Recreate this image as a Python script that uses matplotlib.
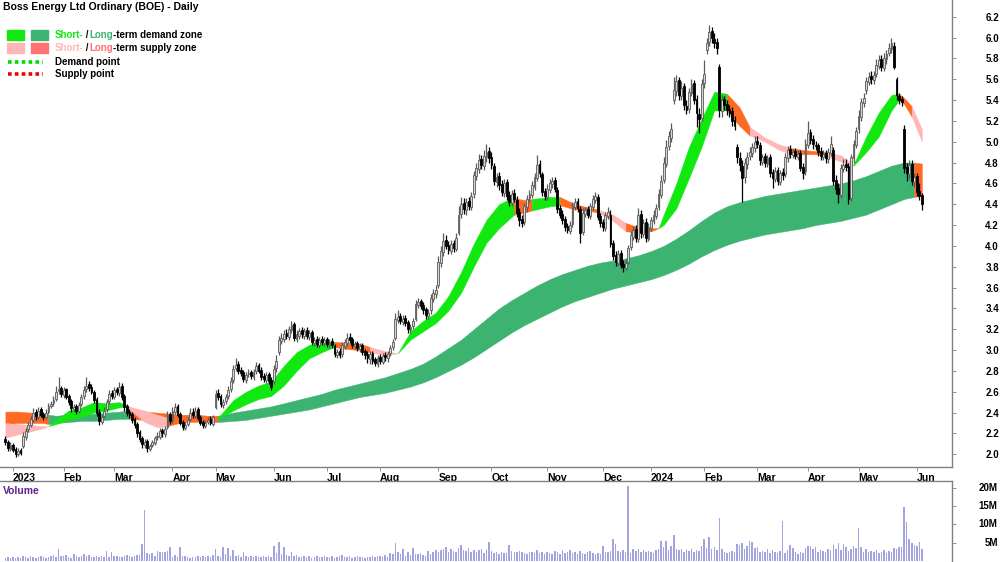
import numpy as np
import pandas as pd
import matplotlib
matplotlib.use('Agg')
import matplotlib.pyplot as plt
from matplotlib.transforms import blended_transform_factory
from matplotlib.patches import Rectangle
from matplotlib.lines import Line2D

plt.rcParams['font.family'] = ['Liberation Sans', 'DejaVu Sans']
plt.rcParams['font.weight'] = 'bold'

TITLE = 'Boss Energy Ltd Ordinary (BOE) - Daily'
START, END = '2022-12-28', '2024-06-05'
HOLIDAYS = ['2023-01-02', '2023-01-26', '2023-04-07', '2023-04-10', '2023-04-25',
            '2023-06-12', '2023-12-25', '2023-12-26', '2024-01-01', '2024-01-26',
            '2024-03-29', '2024-04-01', '2024-04-25']

# daily prices, one line per month (Dec-22 .. Jun-24)
opens = [
    2.15, 2.12, 2.05,
    2.09, 2.05, 2.00, 2.04, 2.08, 2.17, 2.24, 2.28, 2.33, 2.41, 2.36, 2.43, 2.39, 2.36, 2.41, 2.46, 2.49, 2.53, 2.61, 2.64,
    2.57, 2.63, 2.56, 2.51, 2.43, 2.46, 2.42, 2.48, 2.56, 2.63, 2.67, 2.65, 2.60, 2.53, 2.41, 2.31, 2.37, 2.43, 2.51, 2.59,
    2.55, 2.63, 2.59, 2.66, 2.56, 2.46, 2.41, 2.39, 2.34, 2.29, 2.21, 2.16, 2.09, 2.13, 2.05, 2.09, 2.11, 2.17, 2.17, 2.23, 2.19, 2.26, 2.39,
    2.33, 2.41, 2.46, 2.39, 2.31, 2.25, 2.29, 2.34, 2.41, 2.37, 2.43, 2.36, 2.31, 2.27, 2.31, 2.34, 2.29,
    2.45, 2.59, 2.56, 2.47, 2.51, 2.56, 2.63, 2.71, 2.83, 2.87, 2.81, 2.79, 2.71, 2.77, 2.79, 2.74, 2.80, 2.86, 2.81, 2.75, 2.71, 2.77, 2.71,
    2.70, 2.83, 2.98, 3.09, 3.11, 3.16, 3.13, 3.19, 3.25, 3.11, 3.14, 3.19, 3.14, 3.19, 3.13, 3.17, 3.07, 3.11, 3.05, 3.11, 3.07,
    3.11, 3.05, 3.09, 3.04, 2.95, 2.99, 2.96, 3.04, 3.07, 3.13, 3.11, 3.04, 3.07, 3.01, 3.05, 2.99, 2.96, 2.91, 2.97, 2.91, 2.87,
    2.93, 2.89, 2.95, 2.92, 2.97, 3.03, 3.12, 3.29, 3.33, 3.27, 3.31, 3.27, 3.19, 3.23, 3.30, 3.43, 3.47, 3.43, 3.39, 3.33, 3.38, 3.49, 3.54,
    3.62, 3.84, 3.94, 4.06, 4.01, 3.95, 4.03, 3.97, 4.12, 4.31, 4.41, 4.34, 4.43, 4.37, 4.50, 4.67, 4.74, 4.83, 4.77, 4.85, 4.91,
    4.85, 4.77, 4.61, 4.67, 4.59, 4.51, 4.61, 4.49, 4.41, 4.51, 4.44, 4.33, 4.26, 4.23, 4.37, 4.46, 4.49, 4.57, 4.65, 4.79, 4.69, 4.53,
    4.47, 4.54, 4.59, 4.63, 4.54, 4.36, 4.31, 4.26, 4.19, 4.14, 4.21, 4.37, 4.43, 4.35, 4.13, 4.31, 4.35, 4.29, 4.37, 4.44, 4.47, 4.29,
    4.23, 4.17, 4.29, 4.30, 4.03, 3.91, 3.84, 3.93, 3.83, 3.79, 3.85, 3.99, 4.09, 4.16, 4.07, 4.31, 4.11, 4.23, 4.07,
    4.17, 4.24, 4.29, 4.37, 4.49, 4.63, 4.79, 4.96, 5.04, 5.40, 5.49, 5.59, 5.44, 5.53, 5.34, 5.31, 5.47, 5.56, 5.41, 5.27, 5.23,
    5.56, 5.88, 5.96, 6.06, 5.99, 5.96, 5.72, 5.29, 5.41, 5.36, 5.31, 5.29, 5.21, 4.95, 4.84, 4.77, 4.66, 4.79, 4.86, 4.89, 4.94,
    5.01, 4.97, 4.81, 4.86, 4.79, 4.85, 4.71, 4.64, 4.73, 4.61, 4.71, 4.69, 4.84, 4.93, 4.87, 4.91, 4.85, 4.89, 4.76, 4.72,
    4.97, 5.09, 5.03, 4.97, 4.97, 4.91, 4.85, 4.89, 4.83, 4.89, 4.92, 4.63, 4.56, 4.49, 4.74, 4.79, 4.77, 4.46, 4.84, 4.97,
    5.12, 5.24, 5.37, 5.50, 5.57, 5.63, 5.59, 5.65, 5.73, 5.79, 5.71, 5.79, 5.85, 5.89, 5.92, 5.60, 5.44, 5.41, 5.12, 4.76, 4.69, 4.79, 4.61,
    4.67, 4.53, 4.49,
]
highs = [
    2.18, 2.14, 2.12,
    2.11, 2.07, 2.06, 2.06, 2.21, 2.25, 2.31, 2.37, 2.44, 2.43, 2.45, 2.45, 2.41, 2.43, 2.49, 2.51, 2.56, 2.66, 2.74, 2.66,
    2.65, 2.64, 2.58, 2.53, 2.48, 2.48, 2.50, 2.58, 2.66, 2.74, 2.70, 2.67, 2.62, 2.55, 2.43, 2.38, 2.45, 2.53, 2.62, 2.62,
    2.65, 2.65, 2.69, 2.68, 2.58, 2.48, 2.43, 2.41, 2.36, 2.31, 2.23, 2.18, 2.15, 2.15, 2.10, 2.14, 2.18, 2.21, 2.25, 2.25, 2.27, 2.42, 2.41,
    2.45, 2.49, 2.48, 2.41, 2.33, 2.31, 2.36, 2.44, 2.44, 2.45, 2.45, 2.38, 2.33, 2.33, 2.36, 2.37, 2.38,
    2.62, 2.63, 2.58, 2.53, 2.58, 2.66, 2.74, 2.86, 2.92, 2.90, 2.84, 2.81, 2.79, 2.82, 2.81, 2.82, 2.89, 2.88, 2.84, 2.78, 2.79, 2.79, 2.74,
    2.86, 2.95, 3.14, 3.16, 3.19, 3.20, 3.23, 3.28, 3.27, 3.19, 3.21, 3.22, 3.21, 3.22, 3.19, 3.19, 3.13, 3.14, 3.13, 3.14, 3.13,
    3.13, 3.11, 3.12, 3.06, 3.01, 3.02, 3.08, 3.11, 3.16, 3.16, 3.13, 3.09, 3.09, 3.07, 3.07, 3.01, 2.99, 2.99, 2.99, 2.93, 2.95,
    2.96, 2.97, 2.98, 2.99, 3.05, 3.11, 3.36, 3.38, 3.36, 3.34, 3.34, 3.29, 3.25, 3.31, 3.48, 3.50, 3.49, 3.46, 3.41, 3.39, 3.54, 3.59, 3.62,
    3.90, 4.00, 4.12, 4.10, 4.05, 4.06, 4.06, 4.12, 4.38, 4.47, 4.46, 4.46, 4.47, 4.52, 4.72, 4.80, 4.88, 4.87, 4.92, 4.98, 4.95,
    4.90, 4.80, 4.70, 4.71, 4.63, 4.64, 4.64, 4.53, 4.54, 4.55, 4.48, 4.36, 4.30, 4.41, 4.49, 4.54, 4.62, 4.70, 4.87, 4.82, 4.71, 4.56,
    4.59, 4.64, 4.66, 4.66, 4.57, 4.39, 4.34, 4.29, 4.22, 4.24, 4.42, 4.46, 4.46, 4.38, 4.36, 4.37, 4.38, 4.41, 4.49, 4.52, 4.50, 4.32,
    4.26, 4.33, 4.37, 4.34, 4.06, 3.95, 3.96, 3.96, 3.86, 3.87, 4.01, 4.14, 4.19, 4.20, 4.36, 4.34, 4.26, 4.27, 4.22,
    4.28, 4.34, 4.40, 4.55, 4.68, 4.85, 5.02, 5.10, 5.18, 5.62, 5.64, 5.62, 5.58, 5.56, 5.40, 5.52, 5.60, 5.59, 5.45, 5.32, 5.60,
    5.78, 6.00, 6.12, 6.10, 6.04, 6.00, 5.75, 5.45, 5.44, 5.40, 5.35, 5.33, 5.25, 4.98, 4.90, 4.82, 4.84, 4.90, 4.95, 4.99, 5.05,
    5.05, 5.00, 4.88, 4.89, 4.87, 4.88, 4.74, 4.76, 4.76, 4.73, 4.75, 4.89, 4.96, 4.97, 4.93, 4.94, 4.92, 4.92, 4.80, 5.03,
    5.20, 5.12, 5.06, 5.01, 4.99, 4.95, 4.92, 4.92, 4.94, 5.05, 4.95, 4.68, 4.60, 4.79, 4.83, 4.83, 4.80, 4.88, 5.02, 5.14,
    5.30, 5.42, 5.47, 5.62, 5.67, 5.68, 5.68, 5.79, 5.83, 5.83, 5.85, 5.88, 5.95, 6.00, 5.96, 5.62, 5.47, 5.44, 5.16, 4.80, 4.82, 4.82, 4.70,
    4.70, 4.60, 4.51,
]
lows = [
    2.09, 2.03, 2.03,
    2.02, 1.97, 1.98, 1.99, 2.06, 2.14, 2.21, 2.26, 2.31, 2.33, 2.34, 2.36, 2.33, 2.34, 2.39, 2.44, 2.46, 2.51, 2.58, 2.55,
    2.54, 2.53, 2.47, 2.41, 2.41, 2.39, 2.40, 2.46, 2.53, 2.60, 2.61, 2.58, 2.49, 2.37, 2.28, 2.29, 2.35, 2.41, 2.48, 2.53,
    2.53, 2.57, 2.56, 2.52, 2.42, 2.37, 2.35, 2.30, 2.25, 2.17, 2.12, 2.06, 2.06, 2.02, 2.03, 2.07, 2.09, 2.14, 2.15, 2.17, 2.17, 2.24, 2.29,
    2.30, 2.39, 2.36, 2.28, 2.23, 2.23, 2.27, 2.32, 2.35, 2.35, 2.33, 2.28, 2.25, 2.25, 2.29, 2.28, 2.27,
    2.43, 2.52, 2.45, 2.44, 2.48, 2.53, 2.60, 2.68, 2.80, 2.77, 2.75, 2.69, 2.68, 2.74, 2.72, 2.71, 2.77, 2.78, 2.71, 2.69, 2.68, 2.67, 2.62,
    2.67, 2.79, 2.95, 3.06, 3.08, 3.11, 3.10, 3.16, 3.09, 3.08, 3.11, 3.12, 3.11, 3.11, 3.10, 3.05, 3.04, 3.03, 3.02, 3.05, 3.04,
    3.03, 3.02, 3.02, 2.93, 2.92, 2.92, 2.93, 3.01, 3.04, 3.07, 3.02, 3.01, 2.99, 2.98, 2.95, 2.91, 2.88, 2.87, 2.87, 2.85, 2.84,
    2.87, 2.87, 2.90, 2.89, 2.94, 3.00, 3.10, 3.26, 3.25, 3.24, 3.23, 3.16, 3.16, 3.20, 3.28, 3.40, 3.39, 3.35, 3.30, 3.30, 3.35, 3.46, 3.50,
    3.60, 3.80, 3.90, 3.97, 3.92, 3.92, 3.94, 3.95, 4.10, 4.27, 4.31, 4.30, 4.34, 4.34, 4.46, 4.63, 4.70, 4.74, 4.73, 4.81, 4.80,
    4.74, 4.58, 4.57, 4.54, 4.48, 4.47, 4.44, 4.38, 4.38, 4.42, 4.28, 4.19, 4.18, 4.20, 4.33, 4.42, 4.46, 4.54, 4.62, 4.66, 4.48, 4.44,
    4.44, 4.51, 4.56, 4.52, 4.32, 4.27, 4.21, 4.14, 4.12, 4.11, 4.18, 4.34, 4.33, 4.03, 4.10, 4.28, 4.27, 4.26, 4.34, 4.41, 4.25, 4.18,
    4.14, 4.14, 4.26, 3.99, 3.86, 3.81, 3.81, 3.79, 3.75, 3.77, 3.83, 3.96, 4.06, 4.04, 4.04, 4.08, 4.09, 4.04, 4.05,
    4.14, 4.21, 4.26, 4.34, 4.46, 4.60, 4.76, 4.92, 5.00, 5.36, 5.44, 5.40, 5.40, 5.30, 5.27, 5.28, 5.44, 5.36, 5.14, 5.08, 5.20,
    5.52, 5.84, 5.92, 5.95, 5.90, 5.84, 5.24, 5.24, 5.30, 5.26, 5.24, 5.15, 5.11, 4.80, 4.72, 4.42, 4.60, 4.74, 4.82, 4.85, 4.90,
    4.94, 4.78, 4.78, 4.76, 4.76, 4.66, 4.56, 4.61, 4.58, 4.58, 4.63, 4.66, 4.81, 4.84, 4.84, 4.83, 4.82, 4.72, 4.64, 4.68,
    4.94, 4.98, 4.93, 4.92, 4.86, 4.82, 4.82, 4.80, 4.80, 4.86, 4.58, 4.50, 4.41, 4.46, 4.71, 4.72, 4.40, 4.43, 4.80, 4.94,
    5.08, 5.20, 5.33, 5.46, 5.54, 5.55, 5.55, 5.62, 5.70, 5.68, 5.68, 5.75, 5.82, 5.85, 5.70, 5.40, 5.36, 5.34, 4.70, 4.62, 4.64, 4.58, 4.57,
    4.48, 4.44, 4.34,
]
closes = [
    2.12, 2.06, 2.09,
    2.04, 2.00, 2.03, 2.01, 2.18, 2.22, 2.28, 2.34, 2.40, 2.37, 2.42, 2.38, 2.36, 2.40, 2.46, 2.48, 2.52, 2.60, 2.63, 2.58,
    2.62, 2.55, 2.50, 2.44, 2.45, 2.42, 2.47, 2.55, 2.62, 2.66, 2.64, 2.60, 2.52, 2.40, 2.32, 2.36, 2.42, 2.50, 2.58, 2.56,
    2.62, 2.60, 2.65, 2.55, 2.45, 2.40, 2.38, 2.33, 2.28, 2.20, 2.15, 2.10, 2.12, 2.06, 2.08, 2.12, 2.16, 2.18, 2.22, 2.20, 2.24, 2.38, 2.32,
    2.42, 2.45, 2.38, 2.30, 2.26, 2.28, 2.33, 2.40, 2.38, 2.42, 2.35, 2.30, 2.28, 2.30, 2.33, 2.30, 2.36,
    2.58, 2.55, 2.48, 2.50, 2.55, 2.62, 2.70, 2.82, 2.86, 2.80, 2.78, 2.72, 2.76, 2.78, 2.75, 2.79, 2.85, 2.80, 2.74, 2.72, 2.76, 2.70, 2.65,
    2.82, 2.90, 3.10, 3.12, 3.15, 3.14, 3.20, 3.24, 3.12, 3.15, 3.18, 3.15, 3.18, 3.14, 3.16, 3.08, 3.10, 3.06, 3.10, 3.08, 3.10,
    3.06, 3.08, 3.05, 2.96, 2.98, 2.95, 3.05, 3.08, 3.12, 3.10, 3.05, 3.06, 3.02, 3.04, 2.98, 2.95, 2.92, 2.96, 2.90, 2.88, 2.92,
    2.90, 2.94, 2.93, 2.96, 3.02, 3.08, 3.30, 3.32, 3.28, 3.30, 3.26, 3.20, 3.22, 3.28, 3.44, 3.46, 3.42, 3.38, 3.34, 3.36, 3.50, 3.55, 3.58,
    3.85, 3.95, 4.05, 4.00, 3.96, 4.02, 3.98, 4.08, 4.30, 4.40, 4.35, 4.42, 4.38, 4.48, 4.68, 4.75, 4.82, 4.78, 4.86, 4.90, 4.84,
    4.78, 4.62, 4.66, 4.58, 4.52, 4.60, 4.48, 4.42, 4.50, 4.45, 4.32, 4.25, 4.22, 4.38, 4.45, 4.50, 4.58, 4.66, 4.78, 4.70, 4.52, 4.48,
    4.55, 4.60, 4.62, 4.55, 4.35, 4.30, 4.25, 4.18, 4.15, 4.20, 4.38, 4.42, 4.36, 4.12, 4.32, 4.34, 4.30, 4.38, 4.45, 4.48, 4.28, 4.22,
    4.18, 4.30, 4.33, 4.02, 3.90, 3.85, 3.92, 3.82, 3.80, 3.84, 3.98, 4.10, 4.15, 4.08, 4.30, 4.12, 4.22, 4.08, 4.18,
    4.25, 4.30, 4.36, 4.50, 4.62, 4.80, 4.95, 5.05, 5.12, 5.50, 5.58, 5.45, 5.52, 5.35, 5.30, 5.48, 5.55, 5.40, 5.28, 5.22, 5.55,
    5.65, 5.95, 6.05, 6.00, 5.95, 5.90, 5.30, 5.40, 5.35, 5.30, 5.28, 5.20, 5.15, 4.85, 4.78, 4.65, 4.80, 4.85, 4.90, 4.95, 5.00,
    4.98, 4.82, 4.85, 4.80, 4.84, 4.70, 4.65, 4.72, 4.62, 4.70, 4.68, 4.85, 4.92, 4.88, 4.90, 4.86, 4.88, 4.75, 4.70, 4.98,
    5.08, 5.02, 4.98, 4.96, 4.90, 4.86, 4.88, 4.84, 4.90, 4.98, 4.62, 4.55, 4.50, 4.75, 4.78, 4.76, 4.45, 4.85, 4.98, 5.10,
    5.25, 5.38, 5.42, 5.58, 5.62, 5.60, 5.64, 5.74, 5.78, 5.72, 5.80, 5.84, 5.90, 5.95, 5.72, 5.45, 5.40, 5.38, 4.75, 4.70, 4.78, 4.62, 4.66,
    4.52, 4.48, 4.40,
]
# volume in millions of shares
volume_m = [
    0.9, 1.1, 0.8,
    1.0, 0.9, 1.2, 0.8, 1.4, 1.1, 0.9, 1.3, 1.0, 0.8, 1.2, 1.5, 1.1, 0.9, 1.0, 1.3, 1.6, 1.2, 3.4, 1.5,
    1.4, 1.6, 1.2, 0.9, 1.8, 1.3, 1.1, 1.5, 1.9, 1.4, 1.6, 1.2, 1.0, 1.3, 1.1, 1.3, 1.0, 2.7, 1.2, 2.4,
    1.3, 1.5, 1.1, 1.2, 1.4, 1.6, 1.3, 1.2, 1.5, 1.7, 1.6, 4.7, 14.0, 2.1, 1.8, 2.2, 1.5, 2.8, 2.5, 2.6, 2.4, 2.7, 3.8,
    1.2, 1.6, 1.0, 3.7, 1.3, 1.5, 1.1, 0.9, 1.2, 1.0, 1.4, 1.1, 1.3, 1.0, 1.5, 1.2, 1.7,
    3.2, 1.5, 1.2, 3.9, 2.0, 3.6, 1.4, 2.9, 1.3, 1.6, 1.2, 2.4, 1.3, 1.1, 1.5, 1.0, 1.4, 1.2, 1.1, 1.3, 1.0, 1.4, 1.1,
    4.1, 2.2, 5.2, 2.0, 3.9, 1.6, 1.4, 2.6, 1.3, 1.7, 1.1, 1.0, 1.3, 1.2, 1.5, 0.9, 1.1, 1.3, 1.0, 1.2, 1.4,
    1.0, 1.2, 1.5, 0.9, 1.1, 1.3, 1.6, 1.2, 1.0, 1.4, 0.9, 1.1, 1.3, 1.0, 1.2, 0.8, 1.1, 1.0, 1.3, 1.2, 1.4,
    1.3, 1.1, 1.6, 1.2, 2.2, 1.8, 5.0, 2.6, 1.9, 3.2, 1.5, 2.4, 1.7, 3.5, 2.0, 1.8, 2.3, 1.6, 1.4, 2.8, 2.0, 2.6, 3.0,
    2.4, 2.9, 3.2, 3.8, 2.5, 3.3, 2.8, 2.6, 3.6, 4.4, 3.0, 2.7, 3.5, 2.4, 3.0, 2.6, 3.1, 3.4, 2.2, 2.9, 5.2,
    2.7, 2.2, 2.5, 1.9, 2.6, 2.3, 2.1, 4.4, 2.8, 2.6, 2.4, 2.7, 2.5, 2.2, 1.8, 2.4, 2.6, 2.3, 2.9, 2.1, 2.4, 1.9,
    2.6, 2.3, 2.0, 2.8, 2.4, 1.8, 2.9, 2.2, 2.5, 3.0, 2.1, 2.6, 2.0, 2.8, 2.3, 1.9, 2.4, 2.7, 2.2, 2.0, 2.3, 1.9,
    4.0, 2.6, 2.4, 2.8, 5.9, 4.6, 2.7, 2.4, 2.9, 2.6, 20.5, 2.1, 3.3, 2.8, 3.2, 2.6, 3.0, 2.4, 2.7,
    2.4, 2.2, 2.9, 3.3, 5.6, 3.8, 5.6, 2.9, 4.2, 7.1, 3.4, 3.0, 3.2, 2.6, 3.1, 2.8, 3.3, 2.5, 3.0, 2.7, 4.0,
    6.0, 3.5, 6.5, 3.2, 3.8, 3.0, 11.7, 3.4, 2.6, 2.2, 2.4, 2.8, 2.5, 4.6, 4.4, 4.8, 3.2, 4.0, 5.4, 5.3, 3.6,
    3.8, 2.4, 2.8, 2.5, 3.2, 2.1, 3.0, 2.6, 2.2, 2.7, 11.0, 2.3, 2.9, 4.5, 3.6, 2.4, 2.0, 2.6, 2.3, 3.5,
    4.2, 4.0, 3.3, 3.8, 2.6, 3.0, 2.8, 2.4, 3.2, 2.9, 4.5, 3.4, 4.8, 3.0, 4.6, 3.7, 2.8, 3.4, 4.1, 3.6,
    8.9, 3.8, 2.6, 3.3, 2.5, 2.8, 2.4, 3.1, 2.2, 2.6, 2.9, 2.3, 2.8, 2.5, 3.5, 3.2, 3.8, 3.9, 14.8, 10.6, 6.1, 5.0, 4.3,
    4.2, 5.3, 3.2,
]

# short-term zone, read at sample bars (bar index, top, bottom)
st_idx = [0, 5, 10, 15, 17, 20, 25, 30, 35, 40, 45, 48, 50, 55, 60, 64, 70, 75, 80, 84,
          90, 95, 100, 105, 110, 115, 120, 125, 130, 135, 140, 144, 150, 155, 160, 165, 170, 175, 180, 185,
          190, 195, 200, 201, 205, 208, 215, 219, 225, 230, 234, 240, 245, 250, 255, 258, 260, 265, 270, 275,
          280, 285, 290, 294, 300, 305, 310, 315, 320, 324, 330, 335, 340, 345, 350, 353, 355, 358, 362]
st_top = [2.30, 2.29, 2.28, 2.27, 2.27, 2.33, 2.42, 2.45, 2.50, 2.49, 2.50, 2.47, 2.45, 2.42, 2.38, 2.35, 2.36, 2.36, 2.35, 2.35,
          2.52, 2.60, 2.66, 2.70, 2.85, 2.98, 3.05, 3.08, 3.08, 3.07, 3.06, 3.03, 2.99, 2.97, 3.18, 3.28, 3.36, 3.52, 3.75, 4.02,
          4.25, 4.40, 4.46, 4.46, 4.44, 4.45, 4.47, 4.47, 4.40, 4.37, 4.35, 4.30, 4.22, 4.18, 4.17, 4.17, 4.30, 4.60, 4.95, 5.22,
          5.48, 5.46, 5.33, 5.14, 5.04, 4.98, 4.94, 4.92, 4.91, 4.90, 4.87, 4.78, 5.05, 5.28, 5.45, 5.46, 5.42, 5.34, 5.12]
st_bot = [2.16, 2.19, 2.22, 2.25, 2.27, 2.29, 2.33, 2.36, 2.40, 2.42, 2.45, 2.46, 2.41, 2.31, 2.26, 2.27, 2.31, 2.33, 2.33, 2.34,
          2.42, 2.48, 2.53, 2.56, 2.66, 2.80, 2.92, 2.98, 3.03, 3.01, 3.00, 2.98, 2.95, 2.97, 3.10, 3.18, 3.26, 3.38, 3.55, 3.80,
          4.03, 4.17, 4.28, 4.30, 4.32, 4.34, 4.38, 4.39, 4.35, 4.34, 4.32, 4.24, 4.14, 4.13, 4.14, 4.17, 4.20, 4.36, 4.65, 4.95,
          5.30, 5.30, 5.15, 5.06, 5.00, 4.93, 4.88, 4.88, 4.88, 4.86, 4.81, 4.77, 4.90, 5.05, 5.30, 5.40, 5.36, 5.24, 5.00]
# (first bar, state) g = demand, p = weak supply, o = supply
st_switch = [(0, 'p'), (17, 'g'), (48, 'p'), (64, 'o'), (84, 'g'), (130, 'o'), (144, 'p'), (155, 'g'),
             (201, 'o'), (208, 'g'), (219, 'o'), (234, 'p'), (245, 'o'), (258, 'g'), (285, 'o'), (294, 'p'),
             (310, 'o'), (324, 'p'), (335, 'g'), (353, 'o'), (358, 'p')]

# long-term zone
lt_idx = [0, 5, 10, 15, 17, 20, 25, 30, 35, 40, 45, 49, 55, 60, 65, 70, 75, 80, 84, 90,
          95, 100, 105, 110, 115, 120, 125, 130, 135, 140, 145, 150, 155, 160, 165, 170, 175, 180, 185, 190,
          195, 200, 205, 210, 215, 220, 225, 230, 235, 240, 245, 250, 255, 260, 265, 270, 275, 280, 285, 290,
          295, 300, 305, 310, 315, 320, 325, 330, 335, 340, 345, 350, 355, 359, 362]
lt_top = [2.41, 2.41, 2.40, 2.39, 2.38, 2.37, 2.38, 2.38, 2.39, 2.40, 2.41, 2.42, 2.41, 2.40, 2.39, 2.38, 2.38, 2.37, 2.37, 2.40,
          2.42, 2.44, 2.46, 2.49, 2.52, 2.55, 2.58, 2.62, 2.65, 2.68, 2.71, 2.74, 2.78, 2.82, 2.87, 2.94, 3.02, 3.10, 3.20, 3.30,
          3.40, 3.48, 3.55, 3.62, 3.68, 3.73, 3.77, 3.81, 3.84, 3.86, 3.88, 3.91, 3.95, 4.00, 4.07, 4.15, 4.24, 4.32, 4.38, 4.42,
          4.45, 4.48, 4.50, 4.52, 4.54, 4.56, 4.58, 4.60, 4.63, 4.67, 4.72, 4.77, 4.80, 4.80, 4.79]
lt_bot = [2.29, 2.30, 2.30, 2.30, 2.29, 2.30, 2.31, 2.32, 2.32, 2.33, 2.34, 2.34, 2.33, 2.32, 2.31, 2.31, 2.31, 2.31, 2.31, 2.32,
          2.33, 2.35, 2.37, 2.39, 2.41, 2.43, 2.46, 2.49, 2.52, 2.55, 2.57, 2.59, 2.62, 2.65, 2.69, 2.74, 2.80, 2.86, 2.93, 3.01,
          3.09, 3.17, 3.24, 3.30, 3.36, 3.42, 3.47, 3.51, 3.55, 3.59, 3.62, 3.65, 3.68, 3.72, 3.77, 3.83, 3.90, 3.96, 4.01, 4.05,
          4.08, 4.11, 4.13, 4.15, 4.17, 4.20, 4.22, 4.24, 4.27, 4.30, 4.35, 4.40, 4.45, 4.47, 4.48]
lt_switch = [(0, 'O'), (17, 'G'), (49, 'O'), (84, 'G'), (359, 'O')]

ZONE_COLORS = {'g': '#10e810', 'p': '#ffb6b6', 'o': '#ff6a22', 'G': '#3cb371', 'O': '#ff6a22'}
LEGEND_SUPPLY_LT = '#ff7272'
PRICE_TICKS = [2.0, 2.2, 2.4, 2.6, 2.8, 3.0, 3.2, 3.4, 3.6, 3.8, 4.0, 4.2, 4.4, 4.6, 4.8, 5.0, 5.2, 5.4, 5.6, 5.8, 6.0, 6.2]
VOL_TICKS = [5, 10, 15, 20]
VOL_LABELS = ['5M', '10M', '15M', '20M']
AXIS_GREY = '#808080'


def state_at(switches, i):
    s = switches[0][1]
    for start, st in switches:
        if i >= start:
            s = st
    return s


def draw_zone(ax, idx, top, bot, switches, z):
    idx = np.asarray(idx, float)
    top = np.asarray(top)
    bot = np.asarray(bot)
    states = [state_at(switches, i) for i in idx]
    n = len(idx)
    start = 0
    for k in range(1, n):
        if k == n - 1 or states[k] != states[start]:
            sl = slice(start, k + 1)
            col = ZONE_COLORS[states[start]]
            ax.fill_between(idx[sl], bot[sl], top[sl], facecolor=col, edgecolor=col,
                            linewidth=0.3, zorder=z)
            start = k


n = min(len(opens), len(highs), len(lows), len(closes), len(volume_m))
o = np.array(opens[:n]); h = np.array(highs[:n]); l = np.array(lows[:n]); c = np.array(closes[:n])
vol = np.array(volume_m[:n])
x = np.arange(n)

dates = pd.bdate_range(START, END)
dates = dates[~dates.isin(pd.to_datetime(HOLIDAYS))]
mkey = (dates.year * 12 + dates.month).to_numpy()
first = np.r_[True, mkey[1:] != mkey[:-1]]
tick_pos = np.where(first)[0][1:]
tick_lab = [str(d.year) if d.month == 1 else d.strftime('%b') for d in dates[tick_pos]]

fig = plt.figure(figsize=(10, 5.62), dpi=100)
ax = fig.add_axes([0, 1 - 467 / 562, 0.952, 467 / 562])
axv = fig.add_axes([0, 0, 0.952, 81 / 562], sharex=ax)

# zones
draw_zone(ax, lt_idx, lt_top, lt_bot, lt_switch, 1)
draw_zone(ax, st_idx, st_top, st_bot, st_switch, 2)

# candles
up = c >= o
ax.vlines(x[up], l[up], h[up], color='#5a5a5a', lw=0.9, zorder=3)
ax.vlines(x[~up], l[~up], h[~up], color='black', lw=0.9, zorder=3)
ax.bar(x[up], (c - o)[up], bottom=o[up], width=0.72, color='#d6d6d6',
       edgecolor='#5a5a5a', lw=0.6, zorder=4)
ax.bar(x[~up], (c - o)[~up], bottom=o[~up], width=0.72, color='black',
       edgecolor='black', lw=0.6, zorder=4)

ax.set_xlim(-2.13, 373.9)
ax.set_ylim(1.878, 6.36)
ax.yaxis.tick_right()
ax.set_yticks(PRICE_TICKS)
ax.set_yticklabels([f'{t:.1f}' for t in PRICE_TICKS])
ax.tick_params(axis='y', direction='out', length=3, width=0.6, color=AXIS_GREY,
               pad=21, labelsize=7)
ax.set_xticks(tick_pos)
ax.set_xticklabels(tick_lab, ha='left')
ax.tick_params(axis='x', direction='out', length=3, width=0.6, color=AXIS_GREY,
               pad=1, labelsize=7.5)
for side in ['top', 'left']:
    ax.spines[side].set_visible(False)
for side in ['bottom', 'right']:
    ax.spines[side].set_color(AXIS_GREY)
    ax.spines[side].set_linewidth(1.0)

# volume
axv.bar(x, vol, width=0.6, color='#a3a3df', zorder=2)
axv.set_ylim(-0.27, 21.9)
axv.set_yticks(VOL_TICKS)
axv.yaxis.tick_right()
axv.tick_params(axis='y', direction='out', length=3, width=0.6, color=AXIS_GREY, labelright=False)
axv.tick_params(axis='x', bottom=False, labelbottom=False)
tr = blended_transform_factory(axv.transAxes, axv.transData)
for t, lab in zip(VOL_TICKS, VOL_LABELS):
    axv.text(1.048, t, lab, transform=tr, ha='right', va='center', fontsize=7, clip_on=False)
for side in ['bottom', 'left']:
    axv.spines[side].set_visible(False)
for side in ['top', 'right']:
    axv.spines[side].set_color(AXIS_GREY)
    axv.spines[side].set_linewidth(1.0)
axv.text(0.003, 0.88, 'Volume', transform=axv.transAxes, color='#5c2391',
         fontsize=7.5, ha='left', va='center')

# title and legend
fig.text(0.003, 1 - 7 / 562, TITLE, fontsize=7.5, ha='left', va='center')

renderer = fig.canvas.get_renderer()


def text_width_px(s):
    t = fig.text(0, 0, s, fontsize=7)
    w = t.get_window_extent(renderer).width
    t.remove()
    return w


def advance_px(s):
    # pen advance of s: measure with a trailing sentinel so spaces count
    return text_width_px(s + '|') - text_width_px('|')


def colored_line(y_px, pieces):
    prefix = ''
    for k, (txt, col) in enumerate(pieces):
        x_px = 55 + (advance_px(prefix) - 1.0 * k if prefix else 0)
        fig.text(x_px / 1000, 1 - y_px / 562, txt, color=col, fontsize=7,
                 ha='left', va='center')
        prefix += txt


for (x0, col) in [(7, ZONE_COLORS['g']), (31, ZONE_COLORS['G'])]:
    fig.add_artist(Rectangle((x0 / 1000, 1 - 40 / 562), 17 / 1000, 10 / 562,
                             transform=fig.transFigure, color=col))
for (x0, col) in [(7, ZONE_COLORS['p']), (31, LEGEND_SUPPLY_LT)]:
    fig.add_artist(Rectangle((x0 / 1000, 1 - 53 / 562), 17 / 1000, 10 / 562,
                             transform=fig.transFigure, color=col))
fig.add_artist(Line2D([0.008, 0.043], [1 - 62 / 562] * 2, transform=fig.transFigure,
                      color='#00dd00', lw=2.6, linestyle=(0, (1, 0.9))))
fig.add_artist(Line2D([0.008, 0.043], [1 - 74 / 562] * 2, transform=fig.transFigure,
                      color='#ee0000', lw=2.6, linestyle=(0, (1, 0.9))))

colored_line(35, [('Short-', ZONE_COLORS['g']), (' / ', 'black'), ('Long', ZONE_COLORS['G']),
                  ('-term demand zone', 'black')])
colored_line(48, [('Short-', ZONE_COLORS['p']), (' / ', 'black'), ('Long', LEGEND_SUPPLY_LT),
                  ('-term supply zone', 'black')])
colored_line(62, [('Demand point', 'black')])
colored_line(74, [('Supply point', 'black')])

fig.savefig('out.png', dpi=100)
